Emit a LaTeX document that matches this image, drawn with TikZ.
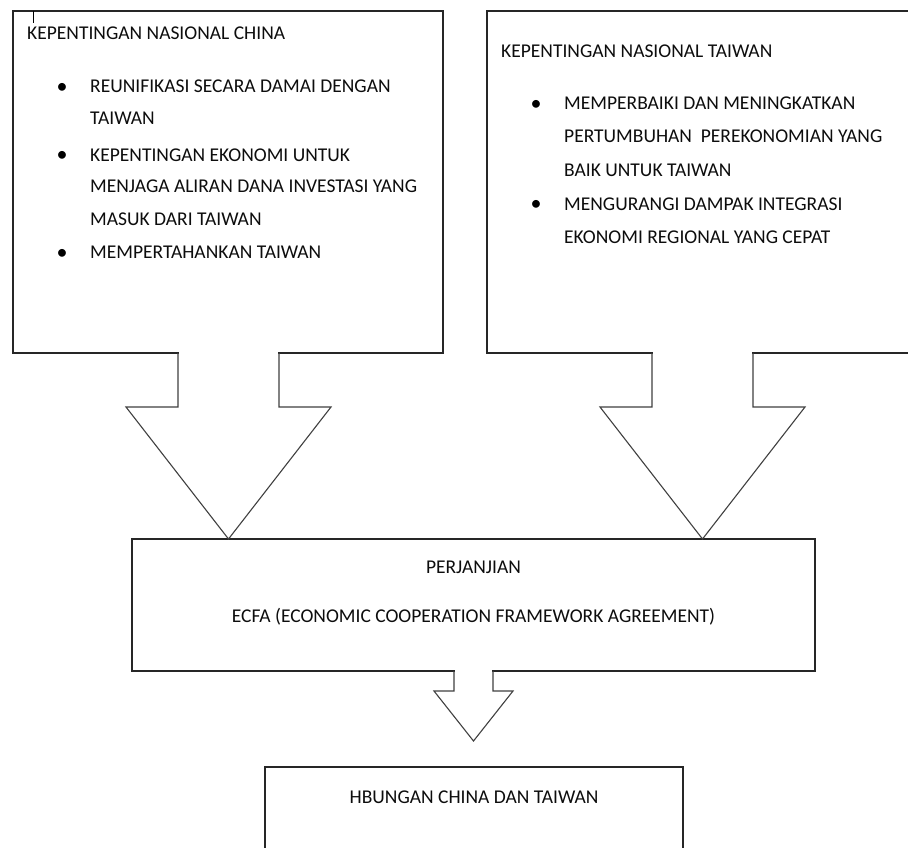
\documentclass[tikz,border=0pt]{standalone}
\usepackage{fontspec}
\setmainfont{Carlito}
\usetikzlibrary{calc}
\begin{document}
\begin{tikzpicture}[x=1pt,y=-1pt,
  box/.style={draw=black!85, line width=1.4pt, rectangle, inner sep=0pt, outer sep=0pt, anchor=north west},
  arr/.style={draw=black!75, line width=1.1pt, line join=miter},
  gap/.style={fill=white},
  txt/.style={font=\fontsize{19.5}{23}\selectfont, text=black!95, inner sep=0pt, anchor=base west},
  ctxt/.style={txt, anchor=base},
  bul/.style={font=\fontsize{22}{23}\selectfont, text=black, inner sep=0pt, anchor=base}]
\useasboundingbox (0,0) rectangle (908,848);
\clip (0,0) rectangle (908,848);
\fill[white] (0,0) rectangle (908,848);

% boxes
\node[box, minimum width=430pt, minimum height=342pt] (china) at (13,11) {};
\node[box, minimum width=440pt, minimum height=342pt] (taiwan) at (487,11) {};
\node[box, minimum width=683pt, minimum height=132pt] (ecfa) at (132,539) {};
\node[box, minimum width=418pt, minimum height=120pt] (hub) at (265,767) {};

% centre lines of the block arrows
\coordinate (lc) at (228.5,0);
\coordinate (rc) at (702.5,0);
\coordinate (bc) at (473.5,0);

% left block arrow: china -> ecfa
\fill[gap] ($(china.south -| lc)+(-49.5,-3)$) rectangle ($(china.south -| lc)+(49.5,3)$);
\draw[arr] ($(china.south -| lc)+(-50.5,0)$) -- ++(0,54) -- ++(-52,0)
  -- (ecfa.north -| lc) -- ++(102.5,-132) -- ++(-52,0) -- ($(china.south -| lc)+(50.5,0)$);

% right block arrow: taiwan -> ecfa
\fill[gap] ($(taiwan.south -| rc)+(-49.5,-3)$) rectangle ($(taiwan.south -| rc)+(49.5,3)$);
\draw[arr] ($(taiwan.south -| rc)+(-50.5,0)$) -- ++(0,54) -- ++(-52,0)
  -- (ecfa.north -| rc) -- ++(102.5,-132) -- ++(-52,0) -- ($(taiwan.south -| rc)+(50.5,0)$);

% bottom block arrow: ecfa -> hub
\coordinate (btip) at (473.5,741);
\fill[gap] ($(ecfa.south -| bc)+(-18.5,-3)$) rectangle ($(ecfa.south -| bc)+(18.5,3)$);
\draw[arr] ($(ecfa.south -| bc)+(-19.5,0)$) -- ++(0,20) -- ++(-20,0)
  -- (btip) -- ++(39.5,-50) -- ++(-20,0) -- ($(ecfa.south -| bc)+(19.5,0)$);

% text cursor mark
\draw[black, line width=0.8pt] (33,11) -- (33,23);

% left box text
\node[txt] (ct) at (27,40) {KEPENTINGAN NASIONAL CHINA};
\node[bul] (cb1) at (62,94) {•};
\node[txt] (c1a) at (90,93) {REUNIFIKASI SECARA DAMAI DENGAN};
\node[txt] (c1b) at (90,125) {TAIWAN};
\node[bul] (cb2) at (62,162) {•};
\node[txt] (c2a) at (90,161) {KEPENTINGAN EKONOMI UNTUK};
\node[txt] (c2b) at (90,193) {MENJAGA ALIRAN DANA INVESTASI YANG};
\node[txt] (c2c) at (90,225) {MASUK DARI TAIWAN};
\node[bul] (cb3) at (62,259) {•};
\node[txt] (c3a) at (90,258) {MEMPERTAHANKAN TAIWAN};

% right box text
\node[txt] (tt) at (501,58) {KEPENTINGAN NASIONAL TAIWAN};
\node[bul] (tb1) at (536,111) {•};
\node[txt] (t1a) at (564,110) {MEMPERBAIKI DAN MENINGKATKAN};
\node[txt] (t1b) at (564,143) {PERTUMBUHAN\ \ PEREKONOMIAN YANG};
\node[txt] (t1c) at (564,176) {BAIK UNTUK TAIWAN};
\node[bul] (tb2) at (536,211) {•};
\node[txt] (t2a) at (564,210) {MENGURANGI DAMPAK INTEGRASI};
\node[txt] (t2b) at (564,243) {EKONOMI REGIONAL YANG CEPAT};

% middle box text
\node[ctxt] (e1) at (473.5,573) {PERJANJIAN};
\node[ctxt] (e2) at (473.5,622) {ECFA (ECONOMIC COOPERATION FRAMEWORK AGREEMENT)};

% bottom box text
\node[ctxt] (h1) at (474,803) {HBUNGAN CHINA DAN TAIWAN};
\end{tikzpicture}
\end{document}
